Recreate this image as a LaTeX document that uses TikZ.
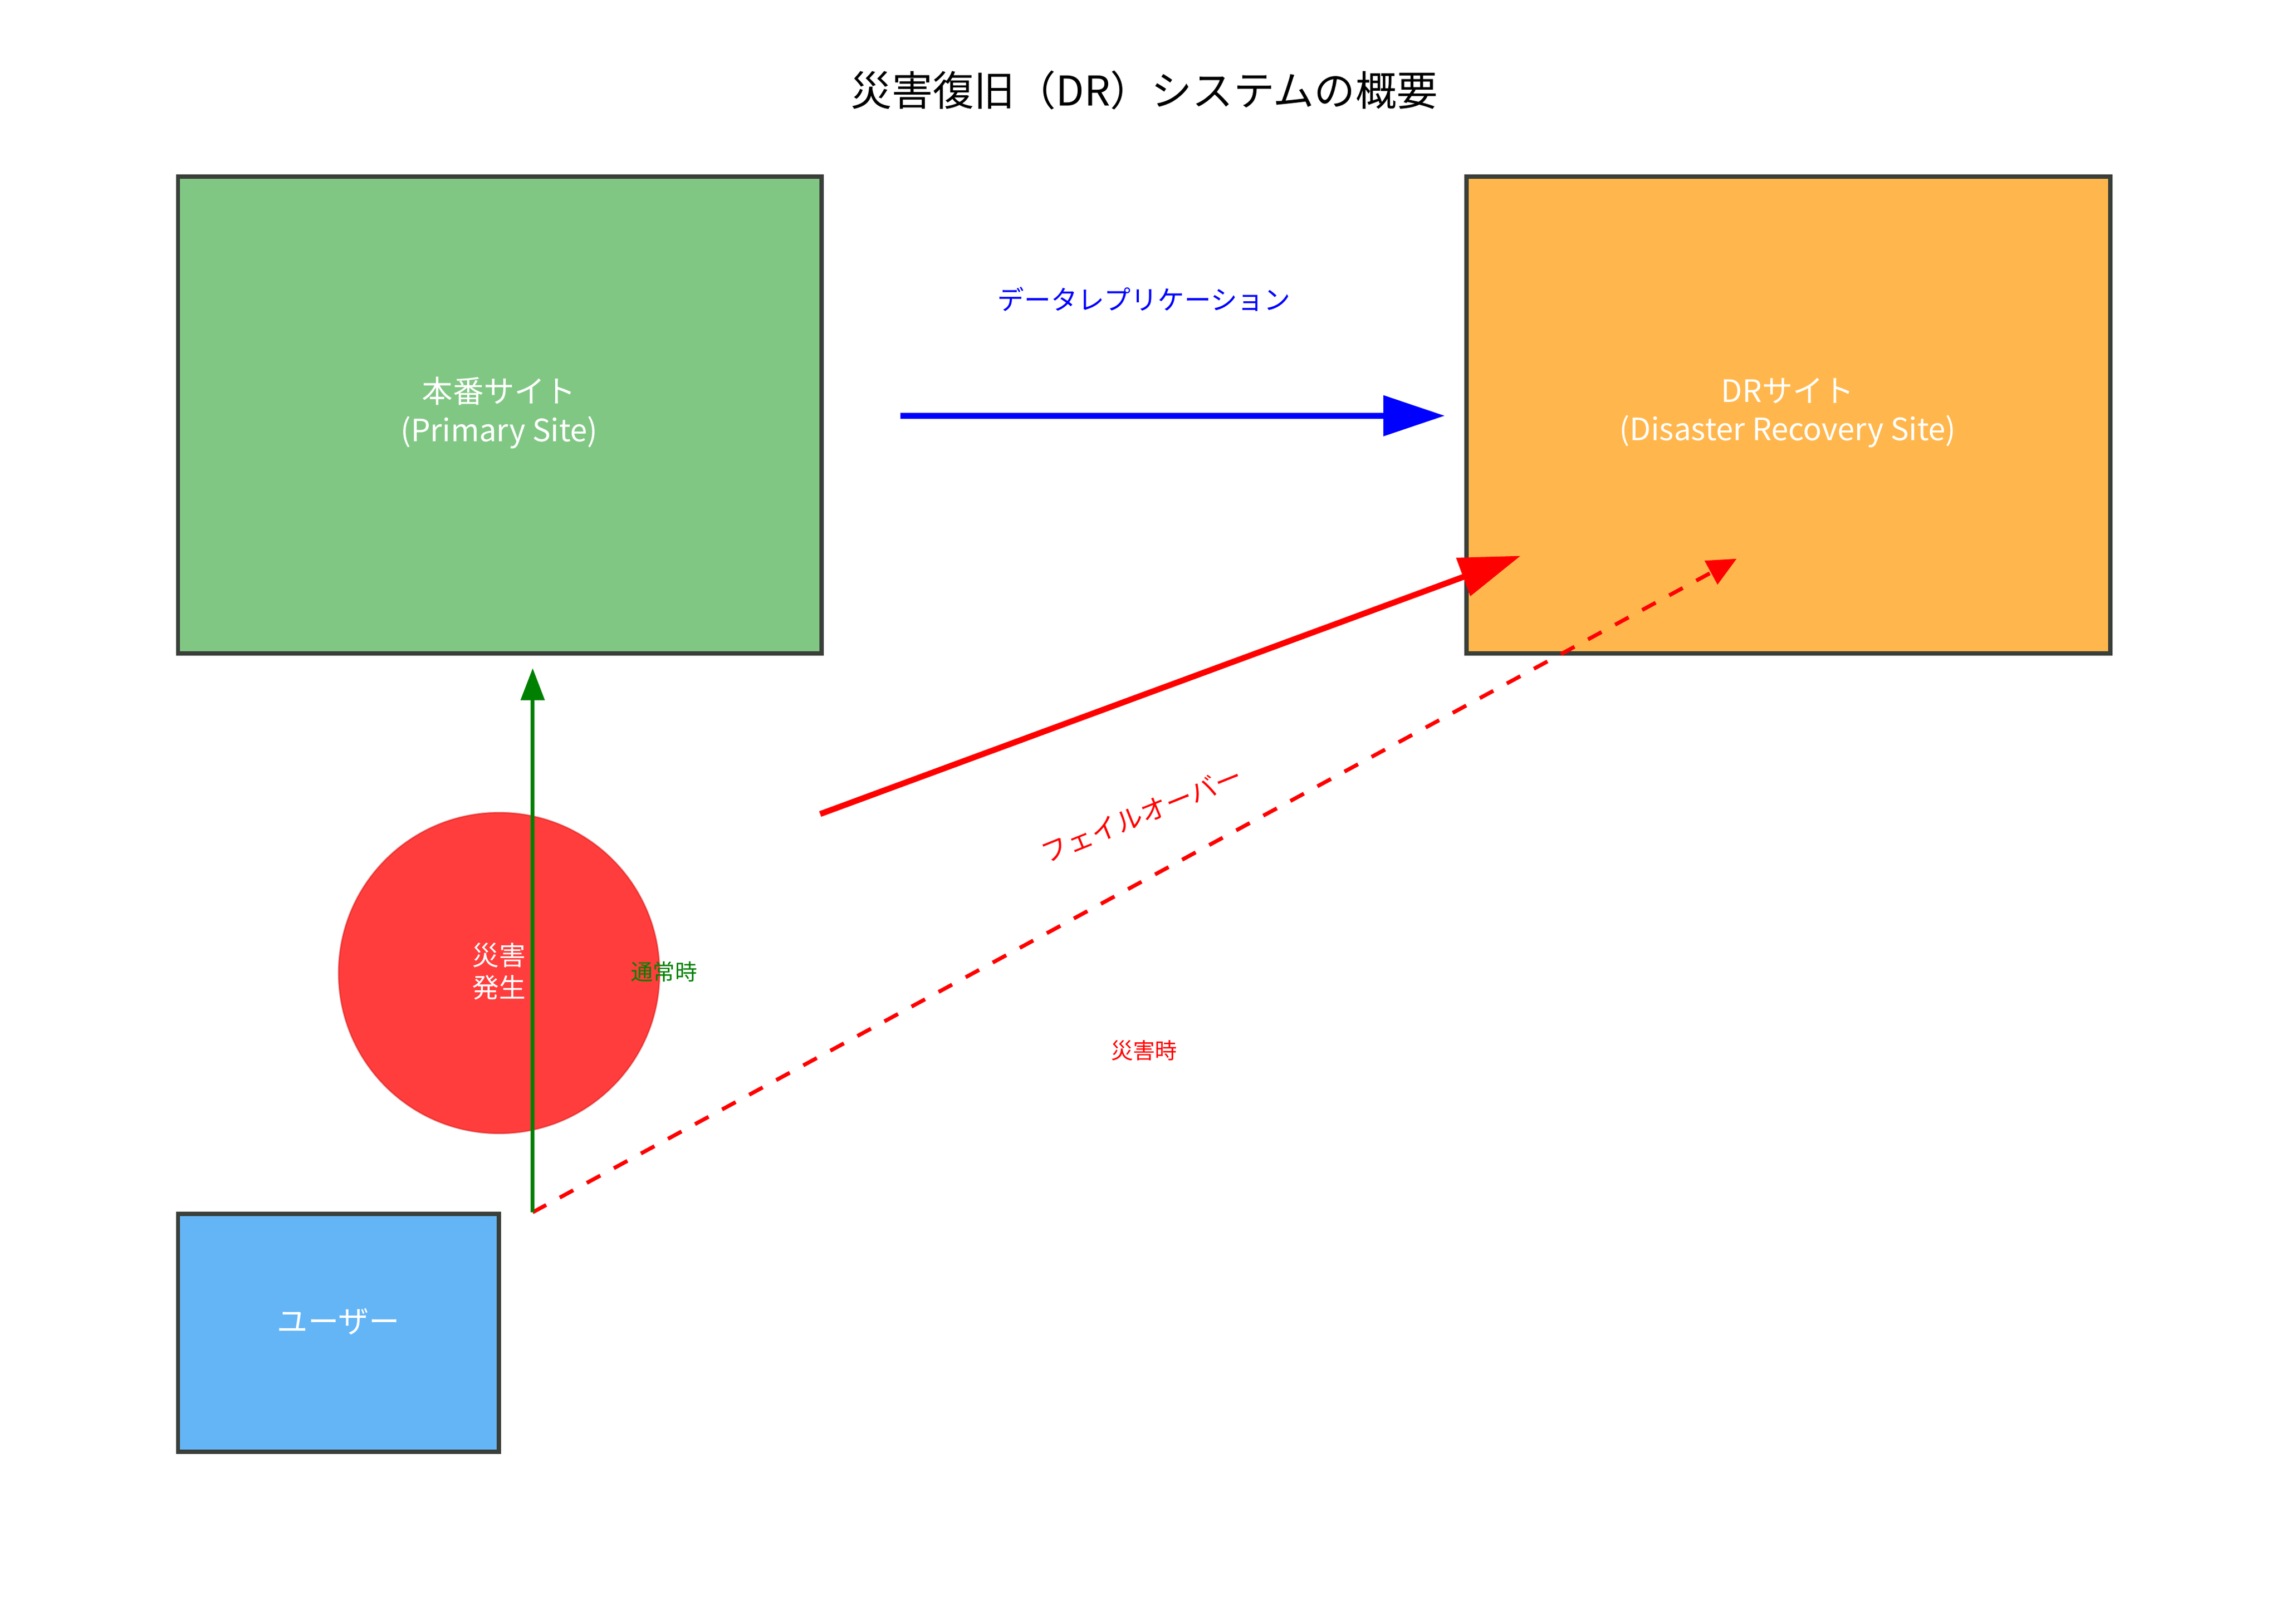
\documentclass[tikz,border=0pt]{standalone}
\usepackage{fontspec}
\setmainfont{Noto Sans CJK JP}
\usetikzlibrary{arrows.meta}
\definecolor{gfill}{HTML}{81C784}
\definecolor{ofill}{HTML}{FFB74D}
\definecolor{bfill}{HTML}{64B5F6}
\definecolor{bord}{HTML}{3A3F3A}
\definecolor{cred}{HTML}{FF3333}
\tikzset{
  site/.style={draw=bord,line width=0.85pt},
  wtxt/.style={text=white,font=\fontsize{6}{7.5}\selectfont,align=center},
  small/.style={font=\fontsize{4.3}{5}\selectfont},
}
\begin{document}
\begin{tikzpicture}[x=0.01cm,y=-0.01cm]
\useasboundingbox (0,0) rectangle (1563,1113);
\node[font=\fontsize{8}{9}\selectfont] (title) at (784,62) {災害復旧（DR）システムの概要};
\draw[site,fill=gfill] (122,121) rectangle (563,448);
\node[wtxt] (prim) at (342,283) {本番サイト\\(Primary Site)};
\draw[site,fill=ofill] (1005,121) rectangle (1446,448);
\node[wtxt] (dr) at (1225,283) {DRサイト\\(Disaster Recovery Site)};
\draw[site,fill=bfill] (122,832) rectangle (342,995);
\node[wtxt] (user) at (232,906) {ユーザー};
\fill[cred,opacity=0.95] (342,667) circle[radius=110];
\draw[red!80!black,line width=0.3pt,opacity=0.4] (342,667) circle[radius=110];
\node[wtxt,font=\fontsize{5.2}{6.3}\selectfont] (dis) at (342,666) {災害\\発生};
\coordinate (ua) at (365,831);
\coordinate (pa) at (365,458);
\coordinate (bs) at (617,285);
\coordinate (be) at (990,285);
\coordinate (rs) at (562,558);
\coordinate (re) at (1042,381);
\coordinate (de) at (1190,383);
\draw[blue,line width=1.15pt,-{Triangle[length=0.42cm,width=0.27cm]}] (bs) -- (be);
\draw[red,line width=1.15pt,-{Triangle[length=0.42cm,width=0.27cm]}] (rs) -- (re);
\draw[red,line width=0.75pt,dashed,-{Triangle[length=0.2cm,width=0.18cm]}] (ua) -- (de);
\draw[green!50!black,line width=0.75pt,-{Triangle[length=0.22cm,width=0.16cm]}] (ua) -- (pa);
\node[text=blue,font=\fontsize{5.2}{6}\selectfont] (l1) at (784,205) {データレプリケーション};
\node[text=red,font=\fontsize{5.2}{6}\selectfont,rotate=22] (l2) at (782,558) {フェイルオーバー};
\node[text=green!50!black,small] (l3) at (455,666) {通常時};
\node[text=red,small] (l4) at (784,720) {災害時};
\end{tikzpicture}
\end{document}
